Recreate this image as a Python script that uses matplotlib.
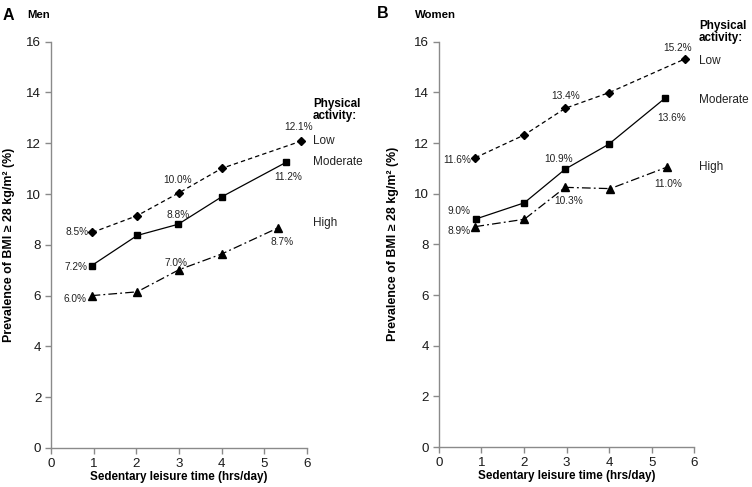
import matplotlib
matplotlib.use("Agg")
import matplotlib.pyplot as plt

plt.rcParams['font.family'] = ['Liberation Sans', 'DejaVu Sans']

# ---------------- data ----------------
men_low_x = [0.97, 2.02, 3.0, 4.0, 5.87]
men_low_y = [8.49, 9.15, 10.05, 11.01, 12.09]
men_mod_x = [0.95, 2.02, 2.98, 4.0, 5.51]
men_mod_y = [7.18, 8.37, 8.81, 9.89, 11.25]
men_high_x = [0.95, 2.02, 3.0, 4.0, 5.31]
men_high_y = [6.0, 6.15, 7.02, 7.64, 8.66]

women_low_x = [0.86, 2.01, 2.97, 4.0, 5.78]
women_low_y = [11.42, 12.32, 13.37, 13.99, 15.32]
women_mod_x = [0.87, 2.01, 2.97, 3.99, 5.32]
women_mod_y = [9.0, 9.64, 10.97, 11.95, 13.78]
women_high_x = [0.86, 2.01, 2.97, 4.03, 5.36]
women_high_y = [8.70, 8.99, 10.25, 10.2, 11.05]

label_idx = [0, 2, 4]
men_low_labels = ["8.5%", "10.0%", "12.1%"]
men_mod_labels = ["7.2%", "8.8%", "11.2%"]
men_high_labels = ["6.0%", "7.0%", "8.7%"]
women_low_labels = ["11.6%", "13.4%", "15.2%"]
women_mod_labels = ["9.0%", "10.9%", "13.6%"]
women_high_labels = ["8.9%", "10.3%", "11.0%"]

levels = ["Low", "Moderate", "High"]
x_ticks = [0, 1, 2, 3, 4, 5, 6]
y_ticks = [0, 2, 4, 6, 8, 10, 12, 14, 16]

# ---------------- figure ----------------
W, H = 752, 487
fig = plt.figure(figsize=(W / 100, H / 100), dpi=100)

def fx(px):
    return px / W

def fy(py):
    return 1 - py / H

axA = fig.add_axes([fx(51), fy(448), (307 - 51) / W, (448 - 41.7) / H])
axB = fig.add_axes([fx(438.7), fy(447), (694.3 - 438.7) / W, (447 - 41.7) / H])

styles = {
    "Low": dict(ls=(0, (3.5, 2.5)), marker='D', ms=4.2),
    "Moderate": dict(ls='-', marker='s', ms=4.5),
    "High": dict(ls=(0, (7, 2.5, 1.5, 2.5)), marker='^', ms=5.2),
}

gray = '#8a8a8a'


def style_axes(ax, ylabel_x):
    ax.set_xlim(0, 6)
    ax.set_ylim(0, 16)
    ax.set_xticks(x_ticks)
    ax.set_yticks(y_ticks)
    for s in ['top', 'right']:
        ax.spines[s].set_visible(False)
    for s in ['left', 'bottom']:
        ax.spines[s].set_color(gray)
        ax.spines[s].set_linewidth(1.0)
    ax.tick_params(direction='out', length=4, width=1.0, color=gray,
                   labelsize=9.6, labelcolor='#1a1a1a', pad=3)
    ax.set_xlabel("Sedentary leisure time (hrs/day)", fontsize=8.4,
                  fontweight='bold')
    ax.xaxis.set_label_coords(0.5, -0.057)
    ax.set_ylabel("Prevalence of BMI \u2265 28 kg/m\u00b2 (%)", fontsize=8.9,
                  fontweight='bold')
    ax.yaxis.set_label_coords(ylabel_x, 0.5)


def draw(ax, data):
    for lvl, (xs, ys, labs, offs) in zip(levels, data):
        st = styles[lvl]
        ax.plot(xs, ys, color='black', lw=0.9, ls=st['ls'],
                marker=st['marker'], ms=st['ms'], mfc='black', mec='black',
                clip_on=False)
        for i, lab, off in zip(label_idx, labs, offs):
            ax.annotate(lab, (xs[i], ys[i]), xytext=off,
                        textcoords='offset pixels', ha='center', va='center',
                        fontsize=7.3, color='#222222')


men_data = [
    (men_low_x, men_low_y, men_low_labels, [(-15, 0), (-1, 13), (-3, 14)]),
    (men_mod_x, men_mod_y, men_mod_labels, [(-16, -1), (0, 9), (2, -15)]),
    (men_high_x, men_high_y, men_high_labels, [(-17, -3), (-3, 7), (5, -14)]),
]
women_data = [
    (women_low_x, women_low_y, women_low_labels, [(-18, -2), (0, 12), (-7, 11)]),
    (women_mod_x, women_mod_y, women_mod_labels, [(-17, 8), (-7, 10), (6, -20)]),
    (women_high_x, women_high_y, women_high_labels, [(-16, -4), (3, -14), (1, -17)]),
]

style_axes(axA, -0.14)
style_axes(axB, -0.155)
draw(axA, men_data)
draw(axB, women_data)

# panel titles
fig.text(fx(3), fy(15), "A", fontsize=11.5, fontweight='bold', va='center', ha='left')
fig.text(fx(27), fy(15), "Men", fontsize=8.2, fontweight='bold', va='center', ha='left')
fig.text(fx(377), fy(14), "B", fontsize=11.5, fontweight='bold', va='center', ha='left')
fig.text(fx(415), fy(15), "Women", fontsize=8.2, fontweight='bold', va='center', ha='left')

# legend-like labels
fig.text(fx(313), fy(110), "Physical\nactivity:", fontsize=8.4, fontweight='bold',
         va='center', ha='left', linespacing=1.05)
fig.text(fx(313), fy(141), "Low", fontsize=8.5, va='center', ha='left', color='#222222')
fig.text(fx(313), fy(162), "Moderate", fontsize=8.5, va='center', ha='left', color='#222222')
fig.text(fx(313), fy(223), "High", fontsize=8.5, va='center', ha='left', color='#222222')

fig.text(fx(699), fy(32), "Physical\nactivity:", fontsize=8.4, fontweight='bold',
         va='center', ha='left', linespacing=1.05)
fig.text(fx(699), fy(61), "Low", fontsize=8.5, va='center', ha='left', color='#222222')
fig.text(fx(699), fy(100), "Moderate", fontsize=8.5, va='center', ha='left', color='#222222')
fig.text(fx(699), fy(167), "High", fontsize=8.5, va='center', ha='left', color='#222222')

fig.savefig("out.png", dpi=100)
